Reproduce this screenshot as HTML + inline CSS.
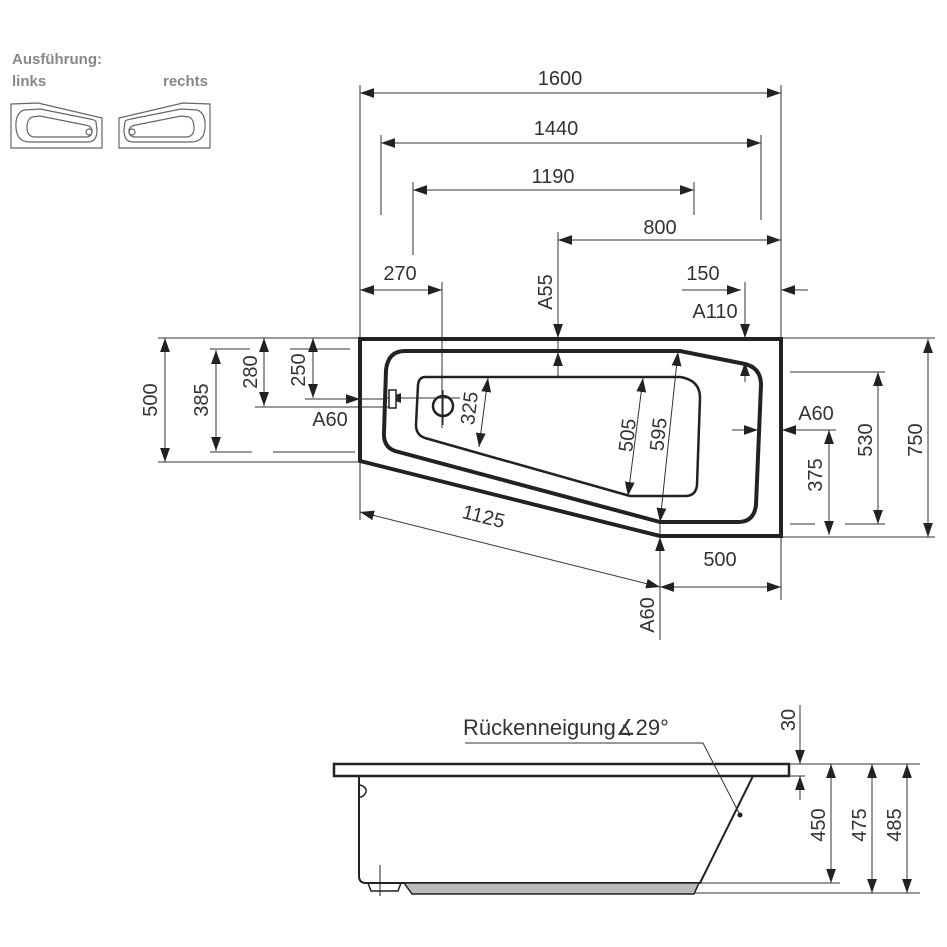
<!DOCTYPE html>
<html><head><meta charset="utf-8"><style>
html,body{margin:0;padding:0;background:#fff;}
svg{display:block;font-family:"Liberation Sans",sans-serif;}
</style></head><body>
<svg width="947" height="947" viewBox="0 0 947 947" xmlns="http://www.w3.org/2000/svg">
<defs>
<marker id="a" viewBox="0 0 10 10" refX="10" refY="5" markerWidth="14" markerHeight="14" markerUnits="userSpaceOnUse" orient="auto-start-reverse"><path d="M0,1.5 L10,5 L0,8.5 Z" fill="#222"/></marker>
</defs>
<text x="12" y="64" font-size="15" fill="#888" font-weight="bold">Ausführung:</text>
<text x="12" y="86" font-size="15" fill="#888" font-weight="bold">links</text>
<text x="163" y="86" font-size="15" fill="#888" font-weight="bold">rechts</text>
<g fill="none" stroke="#666" stroke-width="1.2">
<path d="M11,104 L38,103 L102,118 L102,148 L11,148 Z"/>
<path d="M24,110 Q15,113 16,128 Q17,142 30,142 L88,142 Q97,142 97,130 L96,122 Q96,120 90,119 L40,109 Z"/>
<path d="M32,117 Q27,119 27,128 Q27,136 34,137 L87,137 Q92,136 92,131 Q92,126 85,125 L40,116 Z"/>
<circle cx="89" cy="132" r="3"/>
<path d="M210,104 L183,103 L119,118 L119,148 L210,148 Z"/>
<path d="M197,110 Q206,113 205,128 Q204,142 191,142 L133,142 Q124,142 124,130 L125,122 Q125,120 131,119 L181,109 Z"/>
<path d="M189,117 Q194,119 194,128 Q194,136 187,137 L134,137 Q129,136 129,131 Q129,126 136,125 L181,116 Z"/>
<circle cx="132" cy="132" r="3"/>
</g>
<g stroke="#333" stroke-width="1" fill="none">
<line x1="360" y1="85" x2="360" y2="520"/>
<line x1="781" y1="85" x2="781" y2="600"/>
<line x1="381" y1="135" x2="381" y2="215"/>
<line x1="761" y1="135" x2="761" y2="220"/>
<line x1="413" y1="182" x2="413" y2="255"/>
<line x1="694" y1="182" x2="694" y2="215"/>
<line x1="558" y1="232" x2="558" y2="378"/>
<line x1="442" y1="282" x2="442" y2="428"/>
<line x1="158" y1="338" x2="360" y2="338"/>
<line x1="158" y1="462" x2="360" y2="462"/>
<line x1="210" y1="349" x2="250" y2="349"/><line x1="290" y1="349" x2="350" y2="349"/>
<line x1="210" y1="452" x2="252" y2="452"/><line x1="273" y1="452" x2="355" y2="452"/>
<line x1="255" y1="407" x2="395" y2="407"/>
<line x1="305" y1="399" x2="385" y2="399"/>
<line x1="781" y1="338" x2="935" y2="338"/>
<line x1="781" y1="537" x2="935" y2="537"/>
<line x1="790" y1="372" x2="885" y2="372"/>
<line x1="790" y1="524" x2="815" y2="524"/><line x1="845" y1="524" x2="885" y2="524"/>
<line x1="660" y1="522" x2="660" y2="640"/>
<line x1="400" y1="398" x2="460" y2="398"/>
</g>
<g stroke="#333" stroke-width="1" fill="none">
<line x1="360" y1="93" x2="781" y2="93" marker-start="url(#a)" marker-end="url(#a)"/>
<line x1="381" y1="143" x2="761" y2="143" marker-start="url(#a)" marker-end="url(#a)"/>
<line x1="413" y1="190" x2="694" y2="190" marker-start="url(#a)" marker-end="url(#a)"/>
<line x1="558" y1="240" x2="781" y2="240" marker-start="url(#a)" marker-end="url(#a)"/>
<line x1="360" y1="290" x2="442" y2="290" marker-start="url(#a)" marker-end="url(#a)"/>
<line x1="682" y1="290" x2="741" y2="290" marker-end="url(#a)"/>
<line x1="808" y1="290" x2="781" y2="290" marker-end="url(#a)"/>
<line x1="745" y1="282" x2="745" y2="338" marker-end="url(#a)"/>
<line x1="745" y1="382" x2="745" y2="362" marker-end="url(#a)"/>
<line x1="558" y1="300" x2="558" y2="338" marker-end="url(#a)"/>
<line x1="558" y1="372" x2="558" y2="352" marker-end="url(#a)"/>
<line x1="165" y1="338" x2="165" y2="462" marker-start="url(#a)" marker-end="url(#a)"/>
<line x1="216" y1="350" x2="216" y2="451" marker-start="url(#a)" marker-end="url(#a)"/>
<line x1="264" y1="338" x2="264" y2="406" marker-start="url(#a)" marker-end="url(#a)"/>
<line x1="313" y1="338" x2="313" y2="398" marker-start="url(#a)" marker-end="url(#a)"/>
<line x1="305" y1="399" x2="360" y2="399" marker-end="url(#a)"/>
<line x1="400" y1="398" x2="387" y2="398" marker-end="url(#a)"/>
<line x1="732" y1="430" x2="758" y2="430" marker-end="url(#a)"/>
<line x1="836" y1="430" x2="782" y2="430" marker-end="url(#a)"/>
<line x1="878" y1="372" x2="878" y2="524" marker-start="url(#a)" marker-end="url(#a)"/>
<line x1="928" y1="339" x2="928" y2="537" marker-start="url(#a)" marker-end="url(#a)"/>
<line x1="829" y1="430" x2="829" y2="535" marker-start="url(#a)" marker-end="url(#a)"/>
<line x1="660" y1="587" x2="781" y2="587" marker-start="url(#a)" marker-end="url(#a)"/>
<line x1="660" y1="600" x2="660" y2="537" marker-end="url(#a)"/>
<line x1="360" y1="512" x2="660" y2="587" marker-start="url(#a)" marker-end="url(#a)"/>
<line x1="488" y1="378" x2="479" y2="447" marker-start="url(#a)" marker-end="url(#a)"/>
<line x1="643" y1="378" x2="628" y2="496" marker-start="url(#a)" marker-end="url(#a)"/>
<line x1="678" y1="352" x2="660" y2="522" marker-start="url(#a)" marker-end="url(#a)"/>
</g>
<g fill="none" stroke="#222">
<path d="M360,339 L781,339 L781,536 L660,536 L360,461 Z" stroke-width="4"/>
<path d="M405,351 L680,351 L745,364 Q761,368 761,385 L756,505 Q754,522 738,522 L660,522 L395,451 Q383,447 384,432 L386,370 Q388,351 405,351 Z" stroke-width="4"/>
<path d="M425,377 L680,377 Q700,380 700,398 L697,485 Q696,496 685,496 L630,496 L425,438 Q416,435 416,425 L418,385 Q419,377 425,377 Z" stroke-width="2.5"/>
<circle cx="443" cy="406" r="10" stroke-width="2.5"/>
<line x1="443" y1="390" x2="443" y2="425" stroke-width="1"/>
<rect x="389" y="390" width="7" height="18" stroke-width="1.5" fill="#fff"/>
</g>
<g font-size="20" fill="#333">
<text x="560" y="85" text-anchor="middle">1600</text>
<text x="556" y="135" text-anchor="middle">1440</text>
<text x="553" y="183" text-anchor="middle">1190</text>
<text x="660" y="234" text-anchor="middle">800</text>
<text x="400" y="280" text-anchor="middle">270</text>
<text x="703" y="280" text-anchor="middle">150</text>
<text x="715" y="318" text-anchor="middle">A110</text>
<text x="330" y="426" text-anchor="middle">A60</text>
<text x="816" y="420" text-anchor="middle">A60</text>
<text x="720" y="566" text-anchor="middle">500</text>
<text transform="translate(552,292) rotate(-90)" text-anchor="middle">A55</text>
<text transform="translate(157,400) rotate(-90)" text-anchor="middle">500</text>
<text transform="translate(208,400) rotate(-90)" text-anchor="middle">385</text>
<text transform="translate(257,372) rotate(-90)" text-anchor="middle">280</text>
<text transform="translate(305,370) rotate(-90)" text-anchor="middle">250</text>
<text transform="translate(872,440) rotate(-90)" text-anchor="middle">530</text>
<text transform="translate(922,440) rotate(-90)" text-anchor="middle">750</text>
<text transform="translate(822,475) rotate(-90)" text-anchor="middle">375</text>
<text transform="translate(654,615) rotate(-90)" text-anchor="middle">A60</text>
<text transform="translate(476,409) rotate(-83)" text-anchor="middle">325</text>
<text transform="translate(634,436) rotate(-83)" text-anchor="middle">505</text>
<text transform="translate(665,435) rotate(-84)" text-anchor="middle">595</text>
<text transform="translate(482,523) rotate(14)" text-anchor="middle">1125</text>
</g>
<g fill="none" stroke="#222">
<rect x="334" y="764" width="455" height="12" stroke-width="2.5"/>
<path d="M359,776 L359,876 Q359,883 366,883 L700,883 L753,776" stroke-width="2"/>
<path d="M360,785 Q367,787 366,792 Q364,797 360,797" stroke-width="1.5"/>
<path d="M368,883 L371,891 L398,891 L401,883" stroke-width="1.5"/>
<line x1="380" y1="865" x2="380" y2="896" stroke-width="1"/>
</g>
<path d="M404,883 L699,883 L694,894 L412,894 Z" fill="#bbb" stroke="#222" stroke-width="1.5"/>
<g stroke="#333" stroke-width="1" fill="none">
<line x1="789" y1="764" x2="920" y2="764"/>
<line x1="789" y1="776" x2="805" y2="776"/>
<line x1="700" y1="883" x2="840" y2="883"/>
<line x1="694" y1="893" x2="920" y2="893"/>
<line x1="800" y1="705" x2="800" y2="764" marker-end="url(#a)"/>
<line x1="800" y1="800" x2="800" y2="776" marker-end="url(#a)"/>
<line x1="831" y1="764" x2="831" y2="883" marker-start="url(#a)" marker-end="url(#a)"/>
<line x1="872" y1="764" x2="872" y2="893" marker-start="url(#a)" marker-end="url(#a)"/>
<line x1="907" y1="764" x2="907" y2="893" marker-start="url(#a)" marker-end="url(#a)"/>
<polyline points="465,743 703,743 740,815"/>
</g>
<circle cx="740" cy="815" r="2.5" fill="#222"/>
<g font-size="20" fill="#333">
<text x="463" y="735" font-size="22">Rückenneigung∡29°</text>
<text transform="translate(795,720) rotate(-90)" text-anchor="middle">30</text>
<text transform="translate(825,825) rotate(-90)" text-anchor="middle">450</text>
<text transform="translate(866,825) rotate(-90)" text-anchor="middle">475</text>
<text transform="translate(901,825) rotate(-90)" text-anchor="middle">485</text>
</g>
</svg>
</body></html>
